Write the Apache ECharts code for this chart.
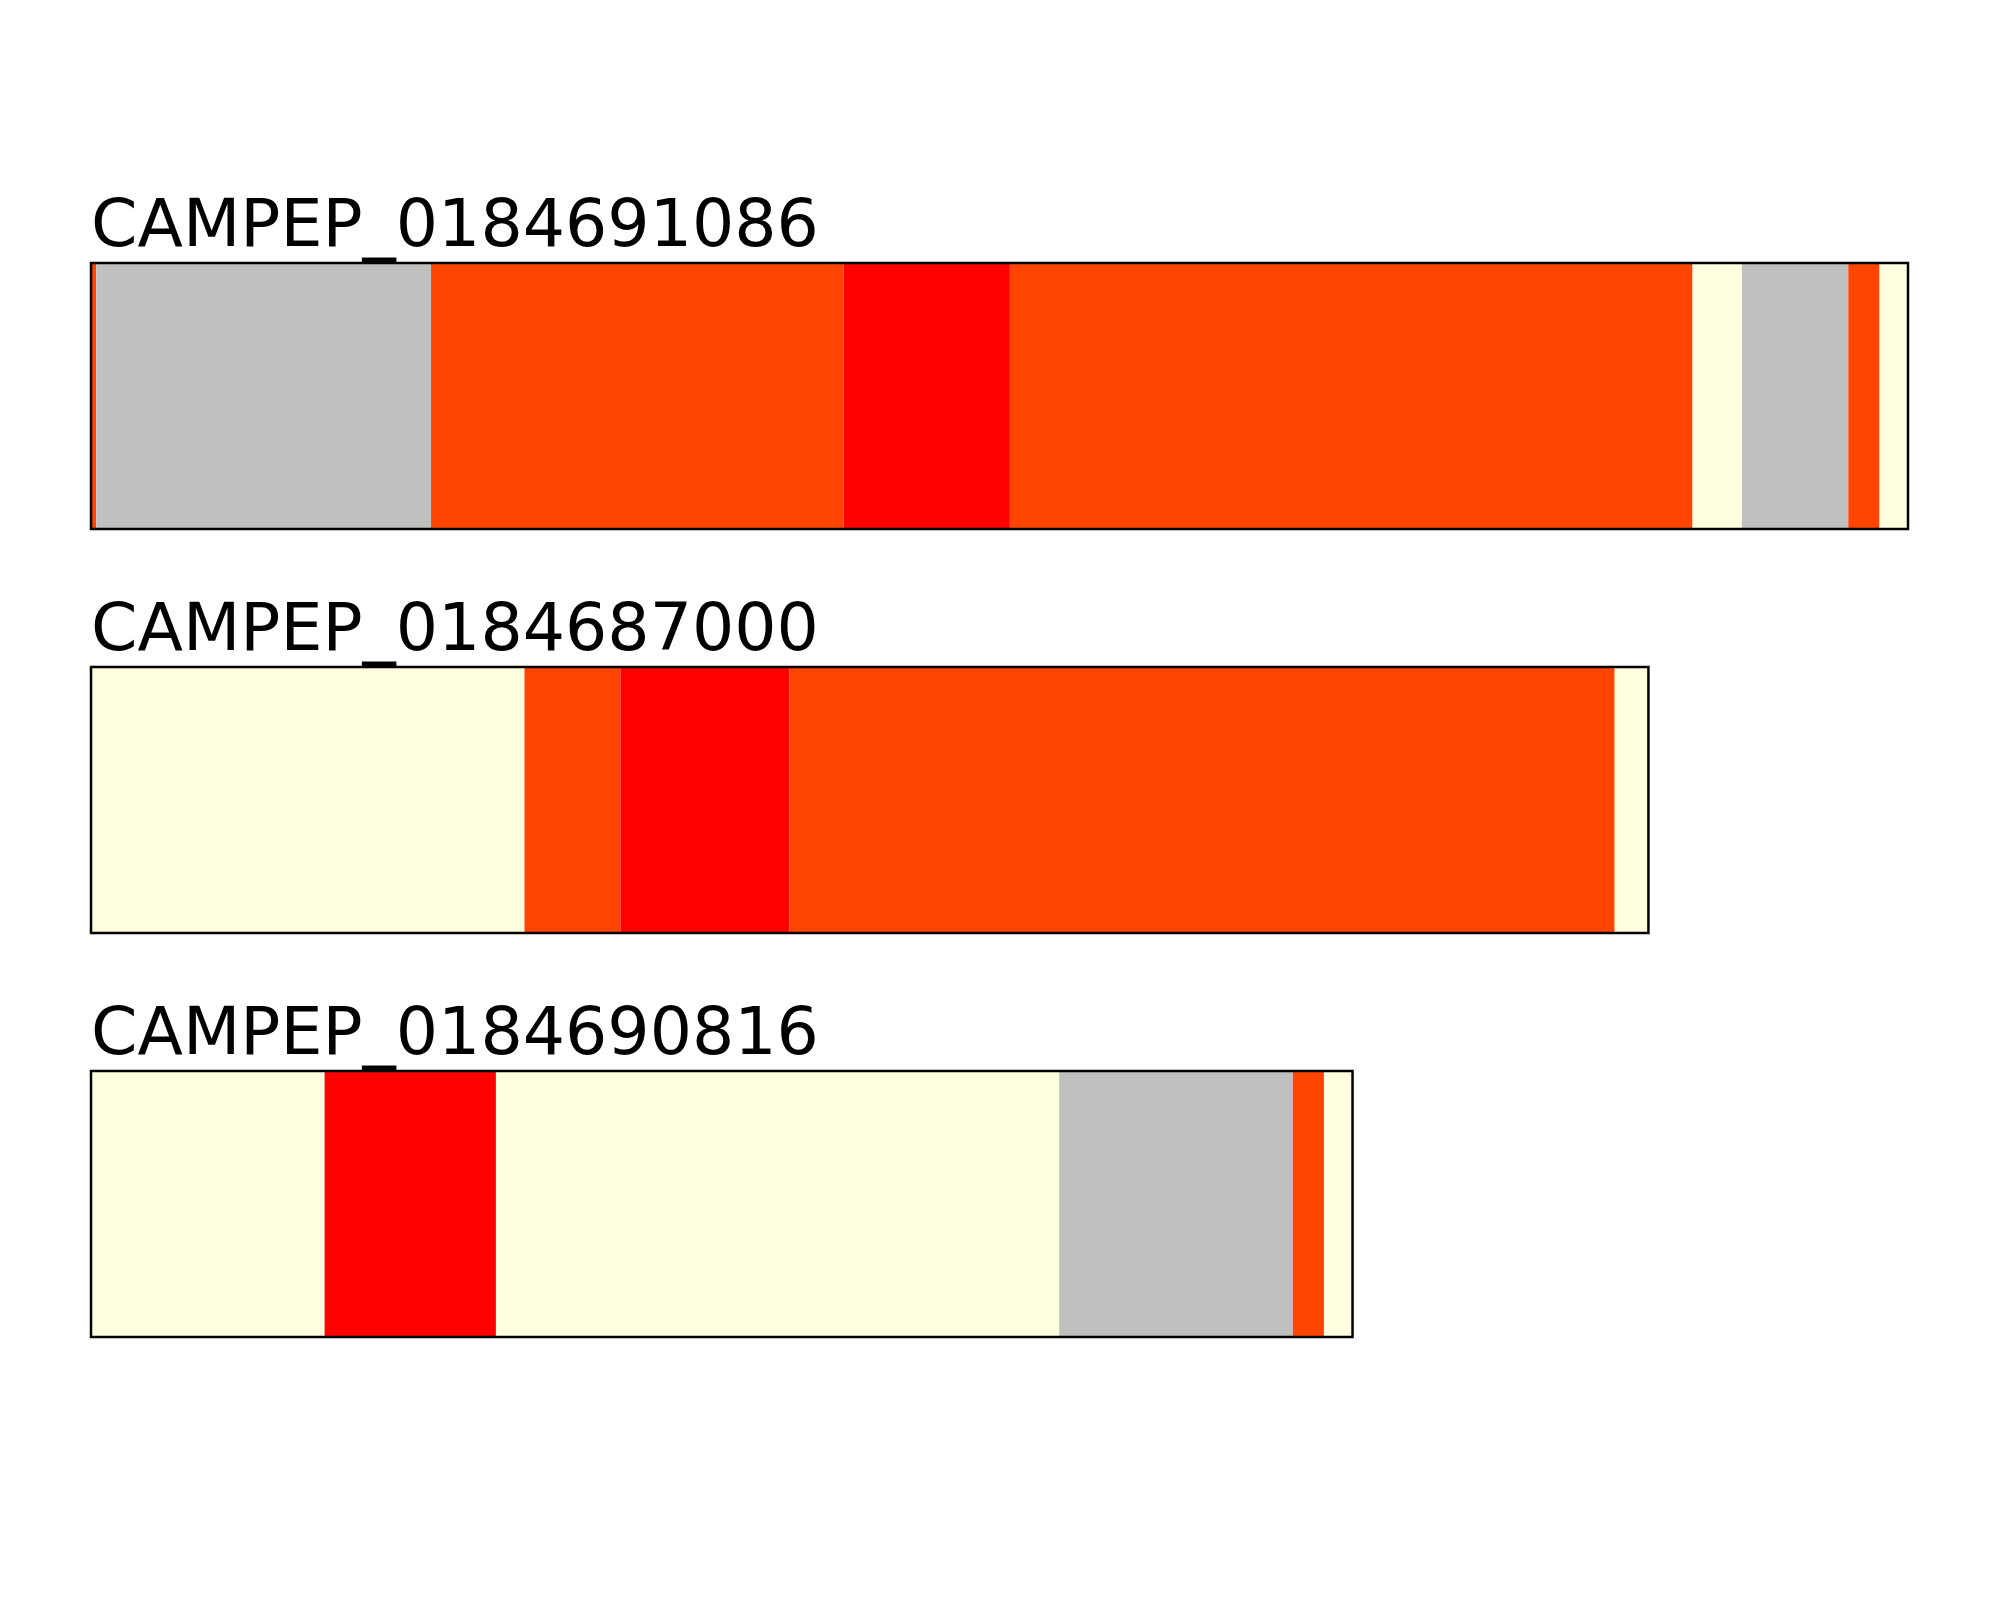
<!DOCTYPE html>
<html>
<head>
<meta charset="utf-8">
<script src="https://cdn.jsdelivr.net/npm/echarts@6/dist/echarts.min.js"></script>
<style>html,body{margin:0;padding:0;background:#fff}#c{width:2000px;height:1600px}</style>
</head>
<body>
<div id="c"></div>
<script>
// Sequence names and lengths (residues)
const names = ['CAMPEP_0184691086', 'CAMPEP_0184687000', 'CAMPEP_0184690816'];
const lengths = [700, 600, 486];
// Segments: [start, end, class]
const segs1 = [[0,2,'o'],[2,131,'g'],[131,290,'o'],[290,354,'r'],[354,617,'o'],[617,636,'y'],[636,677,'g'],[677,689,'o'],[689,700,'y']];
const segs2 = [[0,167,'y'],[167,204,'o'],[204,269,'r'],[269,587,'o'],[587,600,'y']];
const segs3 = [[0,90,'y'],[90,156,'r'],[156,373,'y'],[373,463,'g'],[463,475,'o'],[475,486,'y']];
const classColors = {o:'#FF4500', r:'#FF0000', g:'#C0C0C0', y:'#FFFFE0'};

const allSegs = [segs1, segs2, segs3];
const chart = echarts.init(document.getElementById('c'));
const left = 91, pxPerRes = 1817/700, tops = [263, 667, 1071], h = 266;

const grids = [], xAxes = [], yAxes = [], series = [], titles = [];
allSegs.forEach((segs, i) => {
  grids.push({left: left, top: tops[i], width: lengths[i]*pxPerRes, height: h, show: true,
    borderColor: '#000', borderWidth: 2.5, backgroundColor: 'transparent', z: 10});
  xAxes.push({type: 'value', gridIndex: i, min: 0, max: lengths[i], show: false});
  yAxes.push({type: 'value', gridIndex: i, min: 0, max: 1, show: false});
  titles.push({text: names[i], left: left, top: tops[i] - 68, padding: 0,
    textStyle: {fontFamily: 'DejaVu Sans', fontSize: 66.5, fontWeight: 'normal', color: '#000'}});
  series.push({
    type: 'custom', xAxisIndex: i, yAxisIndex: i,
    data: segs.map(s => [s[0], s[1], s[2]]),
    renderItem: function (params, api) {
      const p0 = api.coord([api.value(0), 1]);
      const p1 = api.coord([api.value(1), 0]);
      const d = segs[params.dataIndex];
      return {type: 'rect', shape: {x: p0[0], y: p0[1], width: p1[0]-p0[0], height: p1[1]-p0[1]},
        style: {fill: classColors[d[2]]}};
    },
    animation: false, silent: true
  });
});

chart.setOption({
  animation: false,
  title: titles,
  grid: grids, xAxis: xAxes, yAxis: yAxes, series: series
});
</script>
</body>
</html>
